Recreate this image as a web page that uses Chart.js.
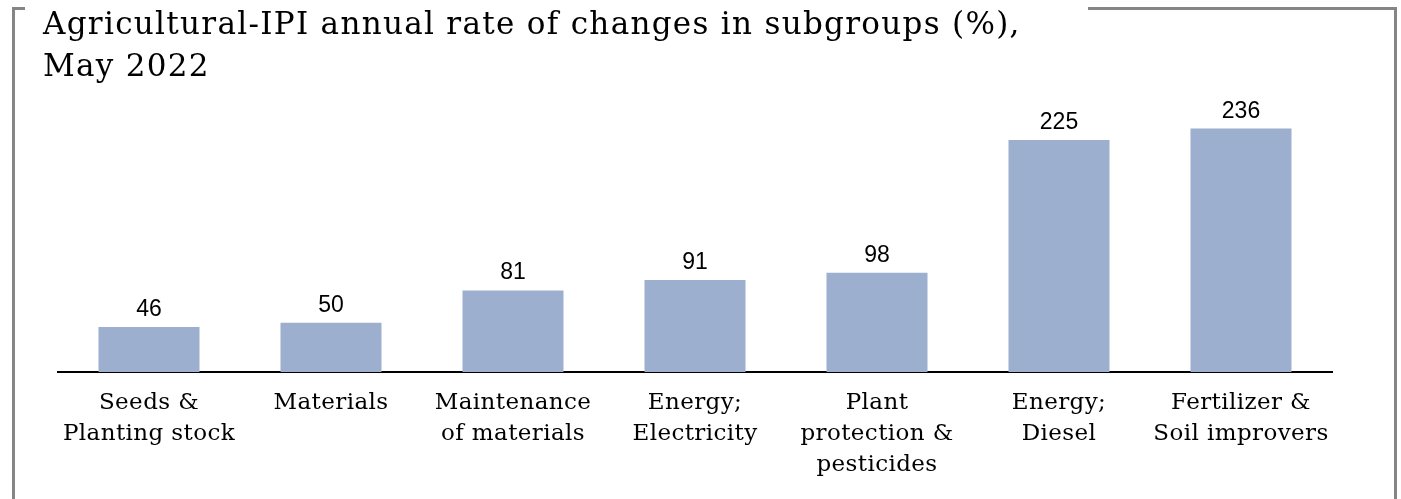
<!DOCTYPE html>
<html>
<head>
<meta charset="utf-8">
<script src="https://cdn.jsdelivr.net/npm/chart.js@4"></script>
<style>
  html, body { margin: 0; padding: 0; background: #fff; }
  #wrap { width: 1401px; height: 499px; position: relative; }
</style>
</head>
<body>
<div id="wrap"><canvas id="chart"></canvas></div>
<script>
// Data
const categories = [
    ["Seeds &", "Planting stock"],
    ["Materials"],
    ["Maintenance", "of materials"],
    ["Energy;", "Electricity"],
    ["Plant", "protection &", "pesticides"],
    ["Energy;", "Diesel"],
    ["Fertilizer &", "Soil improvers"]
];
const rates = [46, 50, 81, 91, 98, 225, 236];
const titleLines = ["Agricultural-IPI annual rate of changes in subgroups (%),", "May 2022"];

const serif = "'DejaVu Serif'";

// a little extra spacing so the serif text runs as wide as the original face
const spacingPlugin = {
    id: "spacing",
    beforeDraw(chart) {
        chart.ctx.letterSpacing = "0.4px";
    }
};

// frame + title drawn on the canvas
const framePlugin = {
    id: "frame",
    afterDraw(chart) {
        const c = chart.ctx;
        c.save();
        c.strokeStyle = "#858585";
        c.lineWidth = 3;
        c.beginPath();
        c.moveTo(25, 8.5);
        c.lineTo(13.5, 8.5);
        c.lineTo(13.5, 499);
        c.moveTo(1088, 8.5);
        c.lineTo(1395.5, 8.5);
        c.lineTo(1395.5, 499);
        c.stroke();

        c.fillStyle = "#000";
        c.font = "31px " + serif;
        c.letterSpacing = "1.3px";
        c.textAlign = "left";
        c.textBaseline = "alphabetic";
        titleLines.forEach((t, i) => c.fillText(t, 43, 34 + i * 42));
        c.restore();
    }
};

// value labels above bars
const valuePlugin = {
    id: "values",
    afterDatasetsDraw(chart) {
        const c = chart.ctx;
        const meta = chart.getDatasetMeta(0);
        c.save();
        c.fillStyle = "#000";
        c.font = "23px 'Liberation Sans', Arial, sans-serif";
        c.letterSpacing = "0px";
        c.textAlign = "center";
        c.textBaseline = "alphabetic";
        meta.data.forEach((bar, i) => {
            c.fillText(String(rates[i]), bar.x, bar.y - 11);
        });
        c.restore();
    }
};

new Chart(document.getElementById("chart"), {
    type: "bar",
    data: {
        labels: categories,
        datasets: [{
            data: rates,
            backgroundColor: "#9DAFCE",
            borderWidth: 0,
            categoryPercentage: 1,
            barPercentage: 0.555
        }]
    },
    options: {
        responsive: true,
        maintainAspectRatio: false,
        animation: false,
        layout: { padding: { top: 114, left: 58, right: 69, bottom: 0 } },
        plugins: {
            legend: { display: false },
            tooltip: { enabled: false },
            title: { display: false }
        },
        scales: {
            x: {
                grid: { display: false, drawTicks: false },
                border: { color: "#000", width: 2 },
                ticks: {
                    color: "#000",
                    padding: 15,
                    maxRotation: 0,
                    autoSkip: false,
                    font: { family: serif, size: 23, lineHeight: 1.365 }
                },
                afterFit(scale) { scale.height = 127; }
            },
            y: {
                display: false,
                min: 2.8,
                max: 250
            }
        }
    },
    plugins: [spacingPlugin, framePlugin, valuePlugin]
});
</script>
</body>
</html>
